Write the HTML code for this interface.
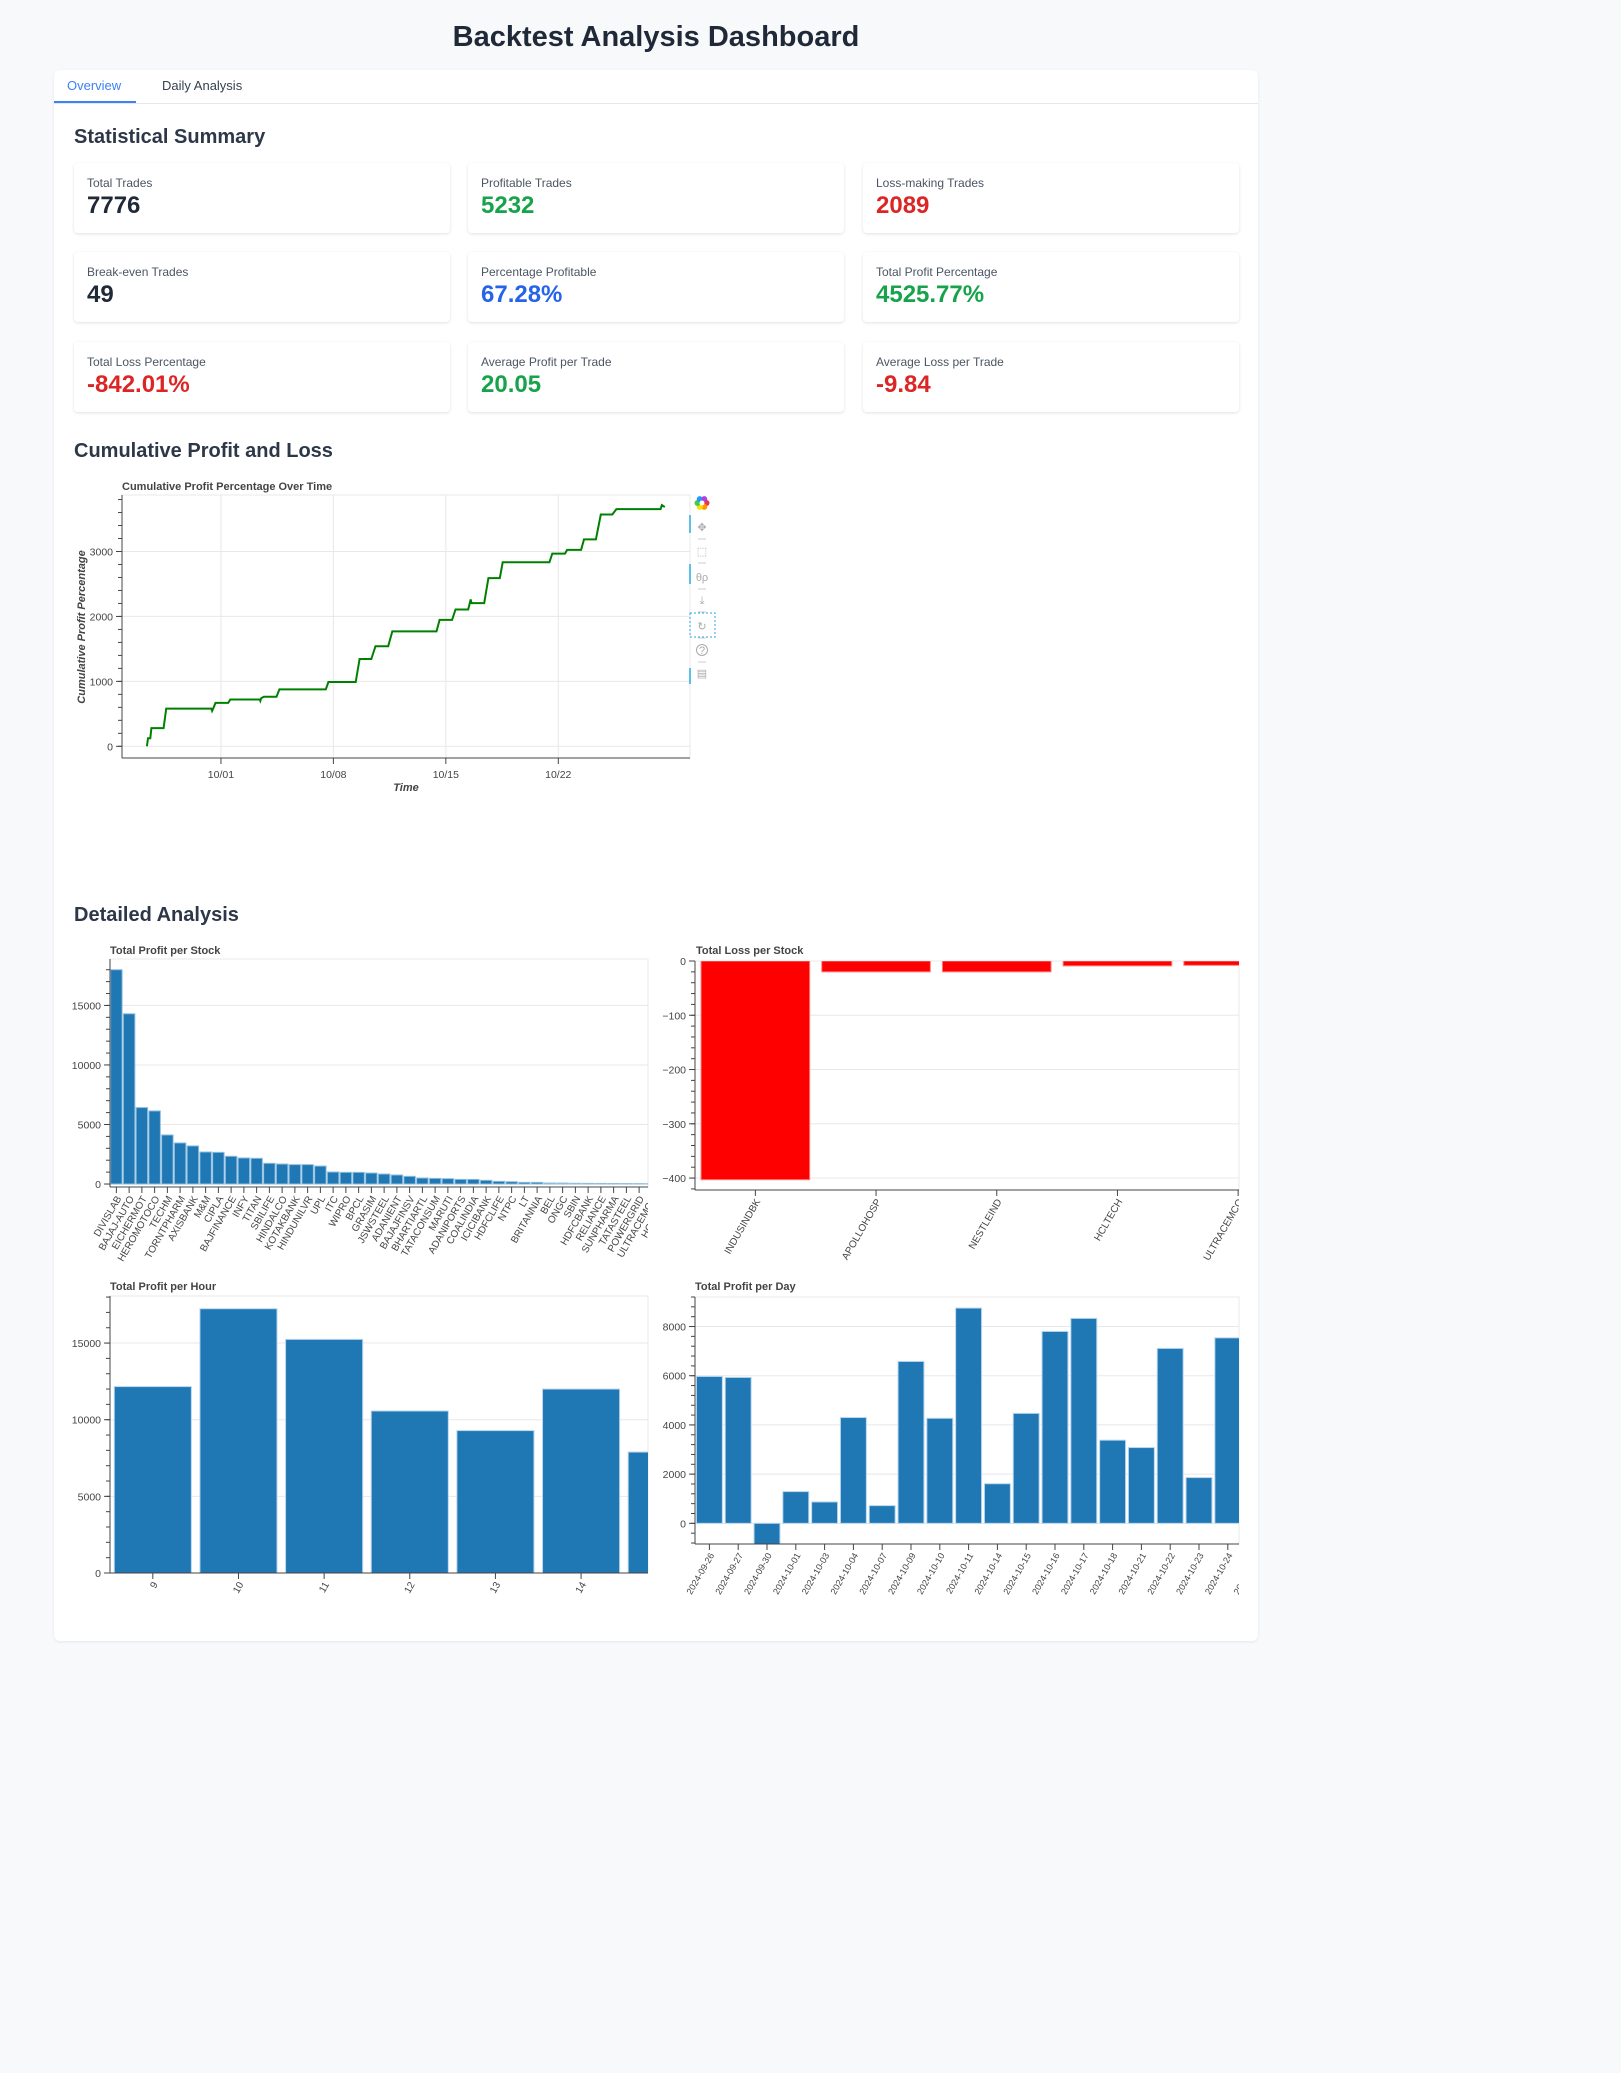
<!DOCTYPE html>
<html><head><meta charset="utf-8">
<style>
*{box-sizing:border-box;margin:0;padding:0}
body{width:1621px;height:2073px;background:#f8f9fb;font-family:"Liberation Sans",sans-serif;position:relative;overflow:hidden;color:#1f2937}
.abs{position:absolute}
h1{position:absolute;left:0;width:1312px;top:21px;text-align:center;font-size:29px;font-weight:bold;color:#1f2937}
.container{position:absolute;left:54px;top:70px;width:1204px;height:1571px;background:#fff;border-radius:6px;box-shadow:0 1px 3px rgba(0,0,0,.08)}
.tabs{position:absolute;left:0;top:0;width:1204px;height:34px;border-bottom:1px solid #e5e7eb}
.tab{position:absolute;top:8px;font-size:13px}
h2{position:absolute;font-size:20px;font-weight:bold;color:#2d3748}
.card{position:absolute;width:376px;height:70px;background:#fff;border-radius:4px;box-shadow:0 1px 3px rgba(0,0,0,.12)}
.card .lbl{position:absolute;left:13px;top:13px;font-size:12px;color:#4b5563}
.card .val{position:absolute;left:13px;top:29px;font-size:24px;font-weight:bold}
svg text{font-family:"Liberation Sans",sans-serif}
</style></head>
<body>
<h1>Backtest Analysis Dashboard</h1>
<div class="container">
 <div class="tabs">
  <div class="tab" style="left:13px;color:#3b82f6">Overview</div>
  <div class="abs" style="left:0;top:31px;width:82px;height:2px;background:#3b82f6"></div>
  <div class="tab" style="left:108px;color:#374151">Daily Analysis</div>
 </div>
</div>
<h2 style="left:74px;top:126px">Statistical Summary</h2>
<h2 style="left:74px;top:440px">Cumulative Profit and Loss</h2>
<h2 style="left:74px;top:904px">Detailed Analysis</h2>

<div class="card" style="left:74px;top:163px"><div class="lbl">Total Trades</div><div class="val" style="color:#1f2937">7776</div></div>
<div class="card" style="left:468px;top:163px"><div class="lbl">Profitable Trades</div><div class="val" style="color:#16a34a">5232</div></div>
<div class="card" style="left:863px;top:163px"><div class="lbl">Loss-making Trades</div><div class="val" style="color:#dc2626">2089</div></div>
<div class="card" style="left:74px;top:252px"><div class="lbl">Break-even Trades</div><div class="val" style="color:#1f2937">49</div></div>
<div class="card" style="left:468px;top:252px"><div class="lbl">Percentage Profitable</div><div class="val" style="color:#2563eb">67.28%</div></div>
<div class="card" style="left:863px;top:252px"><div class="lbl">Total Profit Percentage</div><div class="val" style="color:#16a34a">4525.77%</div></div>
<div class="card" style="left:74px;top:342px"><div class="lbl">Total Loss Percentage</div><div class="val" style="color:#dc2626">-842.01%</div></div>
<div class="card" style="left:468px;top:342px"><div class="lbl">Average Profit per Trade</div><div class="val" style="color:#16a34a">20.05</div></div>
<div class="card" style="left:863px;top:342px"><div class="lbl">Average Loss per Trade</div><div class="val" style="color:#dc2626">-9.84</div></div>

<svg id="charts" class="abs" style="left:0;top:0" width="1621" height="2073"></svg>

<script>
// ---- Cumulative chart data (day offset from 10/01, cumulative %) ----
const cumDays = [-4.61,-4.54,-4.40,-4.33,-3.57,-3.41,-0.60,-0.55,-0.45,-0.34,0.45,0.58,2.41,2.45,2.50,2.67,3.46,3.64,6.53,6.69,8.39,8.63,9.36,9.62,10.41,10.67,13.42,13.61,14.39,14.60,15.39,15.55,15.60,16.39,16.65,17.36,17.54,20.45,20.63,21.42,21.55,22.42,22.60,23.34,23.65,24.36,24.62,27.37,27.45,27.63];
const cumVals = [0,125,125,280,280,581,581,545,600,669,669,721,721,700,740,763,763,877,877,991,991,1344,1344,1541,1541,1770,1770,1946,1946,2107,2107,2263,2205,2205,2590,2590,2833,2833,2968,2968,3025,3025,3186,3186,3570,3570,3653,3653,3715,3684];
const cumYTicks = [0,1000,2000,3000];
const cumXTickDays = [0,7,14,21];
const cumXTickLabels = ["10/01","10/08","10/15","10/22"];

// ---- Profit per stock ----
const stockCats = ["DIVISLAB","BAJAJ-AUTO","EICHERMOT","HEROMOTOCO","TECHM","TORNTPHARM","AXISBANK","M&M","CIPLA","BAJFINANCE","INFY","TITAN","SBILIFE","HINDALCO","KOTAKBANK","HINDUNILVR","UPL","ITC","WIPRO","BPCL","GRASIM","JSWSTEEL","ADANIENT","BAJAJFINSV","BHARTIARTL","TATACONSUM","MARUTI","ADANIPORTS","COALINDIA","ICICIBANK","HDFCLIFE","NTPC","LT","BRITANNIA","BEL","ONGC","SBIN","HDFCBANK","RELIANCE","SUNPHARMA","TATASTEEL","POWERGRID","ULTRACEMCO","HCLTECH"];
const stockVals = [18000,14300,6420,6140,4120,3450,3200,2690,2660,2330,2190,2160,1740,1680,1630,1630,1510,1010,980,980,925,840,760,645,505,475,450,390,390,310,225,195,140,140,85,80,60,55,50,45,40,35,30,25];
const stockYTicks = [0,5000,10000,15000];

// ---- Loss per stock ----
const lossCats = ["INDUSINDBK","APOLLOHOSP","NESTLEIND","HCLTECH","ULTRACEMCO"];
const lossVals = [-403,-20,-20,-9,-8];
const lossYTicks = [0,-100,-200,-300,-400];

// ---- Profit per hour ----
const hourCats = ["9","10","11","12","13","14","15"];
const hourVals = [12160,17240,15240,10570,9290,12000,7890];
const hourYTicks = [0,5000,10000,15000];

// ---- Profit per day ----
const dayCats = ["2024-09-26","2024-09-27","2024-09-30","2024-10-01","2024-10-03","2024-10-04","2024-10-07","2024-10-09","2024-10-10","2024-10-11","2024-10-14","2024-10-15","2024-10-16","2024-10-17","2024-10-18","2024-10-21","2024-10-22","2024-10-23","2024-10-24","2024-10-25"];
const dayVals = [5970,5930,-1000,1290,870,4300,720,6580,4270,8750,1610,4470,7800,8330,3380,3080,7110,1860,7540,5000];
const dayYTicks = [0,2000,4000,6000,8000];

const NS="http://www.w3.org/2000/svg";
const svg=document.getElementById('charts');
function mk(tag,attrs,parent){const e=document.createElementNS(NS,tag);for(const k in attrs)e.setAttribute(k,attrs[k]);(parent||svg).appendChild(e);return e;}
function txt(s,attrs,parent){const e=mk('text',attrs,parent);e.textContent=s;return e;}
let clipId=0;

function yAxis(g,x,yScale,ticks,minorStep,ymin,ymax,top,bot){
  const ax=mk('line',{x1:x,x2:x,y1:top,y2:bot,stroke:'#444','stroke-width':1},g);
  
  
  for(let v=Math.ceil(ymin/minorStep)*minorStep;v<=ymax;v+=minorStep){
    const y=yScale(v);
    if(y<top||y>bot)continue;
    mk('line',{x1:x-4,x2:x,y1:y,y2:y,stroke:'#444','stroke-width':1},g);
  }
  ticks.forEach(v=>{
    const y=yScale(v);
    mk('line',{x1:x-6,x2:x,y1:y,y2:y,stroke:'#444','stroke-width':1},g);
    const t=txt(String(v).replace('-','\u2212'),{x:x-9,y:y+4,'text-anchor':'end','font-size':'10.5',fill:'#444'},g);
    
    
  });
}

function barChart(o){
  const g=mk('g',{});
  
  
  const yS=v=>o.top+(o.ymax-v)/(o.ymax-o.ymin)*(o.bot-o.top);
  const xS=i=>o.left+i*o.band;
  mk('rect',{x:o.left,y:o.top,width:o.right-o.left,height:o.bot-o.top,fill:'none',stroke:'#e8e8e8'},g);
  o.yticks.forEach(v=>{const y=yS(v);mk('line',{x1:o.left,x2:o.right,y1:y,y2:y,stroke:'#e8e8e8'},g);});
  const id='c'+(clipId++);
  const cp=mk('clipPath',{id:id},g);mk('rect',{x:o.left,y:o.top,width:o.right-o.left,height:o.bot-o.top},cp);
  const bg=mk('g',{'clip-path':'url(#'+id+')'},g);
  o.vals.forEach((v,i)=>{
    const x=xS(i)+o.band*0.05,w=o.band*0.9;
    const y0=yS(0),y1=yS(v);
    const r=mk('rect',{x:x,y:Math.min(y0,y1),width:w,height:Math.abs(y1-y0),fill:o.color,stroke:o.stroke,'stroke-width':1},bg);
    
    
  });
  const tt=txt(o.title,{x:o.left+(o.titleDx||0),y:o.titleY,'font-size':'11','font-weight':'bold',fill:'#444'},g);
  
  
  yAxis(g,o.left,yS,o.yticks,o.minor,o.ymin,o.ymax,o.top,o.bot);
  const xa=mk('line',{x1:o.left,x2:o.right,y1:o.bot,y2:o.bot,stroke:'#444'},g);
  
  
  const lc=mk('clipPath',{id:id+'l'},g);mk('rect',{x:o.left-80,y:o.bot,width:o.right-o.left+80,height:200},lc);
  const lg=mk('g',{'clip-path':'url(#'+id+'l)'},g);
  o.cats.forEach((c,i)=>{
    const cx=xS(i)+o.band/2;
    if(cx>o.right+30)return;
    if(cx<=o.right) mk('line',{x1:cx,x2:cx,y1:o.bot,y2:o.bot+6,stroke:'#444'},lg);
    const t=txt(c,{x:0,y:0,'text-anchor':'end','font-size':o.lfs||'10','fill':'#444',transform:'translate('+(cx+3)+','+(o.bot+10)+') rotate(-60)','dominant-baseline':'middle'},lg);
    
    
  });
}

barChart({name:'profit-per-stock-chart',title:'Total Profit per Stock',titleY:954,cats:stockCats,vals:stockVals,left:110,right:648,top:959,bot:1187,ymin:-250,ymax:18900,band:12.75,yticks:stockYTicks,minor:1000,color:'#1f77b4',stroke:'#8fbfe0'});
barChart({name:'loss-per-stock-chart',title:'Total Loss per Stock',titleY:954,titleDx:1,cats:lossCats,vals:lossVals,left:695,right:1239,top:961,bot:1190,ymin:-422,ymax:0,band:120.7,yticks:lossYTicks,minor:20,color:'#ff0000',stroke:'#ff8080'});
barChart({name:'profit-per-hour-chart',title:'Total Profit per Hour',titleY:1290,cats:hourCats,vals:hourVals,left:110,right:648,top:1296,bot:1573,ymin:0,ymax:18070,band:85.65,yticks:hourYTicks,minor:1000,color:'#1f77b4',stroke:'#b8d6ee'});
barChart({name:'profit-per-day-chart',title:'Total Profit per Day',titleY:1290,cats:dayCats,vals:dayVals,left:695,right:1239,top:1297,bot:1544,ymin:-840,ymax:9200,band:28.8,yticks:dayYTicks,minor:400,color:'#1f77b4',stroke:'#b8d6ee',lfs:'9'});

// ---- Cumulative line chart ----
(function(){
  const L=122,R=690,T=495,B=758;
  const dmin=-6.16,dmax=29.2, vmin=-180,vmax=3870;
  const xS=d=>L+(d-dmin)/(dmax-dmin)*(R-L);
  const yS=v=>T+(vmax-v)/(vmax-vmin)*(B-T);
  const g=mk('g',{});
  
  
  mk('rect',{x:L,y:T,width:R-L,height:B-T,fill:'none',stroke:'#e8e8e8'},g);
  cumYTicks.forEach(v=>mk('line',{x1:L,x2:R,y1:yS(v),y2:yS(v),stroke:'#e8e8e8'},g));
  cumXTickDays.forEach(d=>mk('line',{x1:xS(d),x2:xS(d),y1:T,y2:B,stroke:'#e8e8e8'},g));
  let p='';cumDays.forEach((d,i)=>{p+=(i?'L':'M')+xS(d).toFixed(1)+','+yS(cumVals[i]).toFixed(1);});
  const ln=mk('path',{d:p,fill:'none',stroke:'#008000','stroke-width':2},g);
  
  
  yAxis(g,L,yS,cumYTicks,200,vmin,vmax,T,B);
  mk('line',{x1:L,x2:R,y1:B,y2:B,stroke:'#444'},g);
  cumXTickDays.forEach((d,i)=>{
    mk('line',{x1:xS(d),x2:xS(d),y1:B,y2:B+6,stroke:'#444'},g);
    const t=txt(cumXTickLabels[i],{x:xS(d),y:B+20,'text-anchor':'middle','font-size':'10.5',fill:'#444'},g);
    
    
  });
  const t1=txt('Cumulative Profit Percentage Over Time',{x:L,y:490,'font-size':'11','font-weight':'bold',fill:'#444'},g);
  
  
  const t2=txt('Time',{x:406,y:791,'text-anchor':'middle','font-size':'11','font-weight':'bold','font-style':'italic',fill:'#444'},g);
  
  
  const t3=txt('Cumulative Profit Percentage',{x:0,y:0,'text-anchor':'middle','font-size':'11','font-weight':'bold','font-style':'italic',fill:'#444',transform:'translate(85,627) rotate(-90)'},g);
  
  
  const tb=mk('g',{});
  
  
  const cols=['#e34','#f90','#fd0','#4c4','#29f','#a4d'];
  cols.forEach((c,i)=>{const a=i*Math.PI/3;mk('circle',{cx:702+4.5*Math.cos(a),cy:503+4.5*Math.sin(a),r:3,fill:c},tb);});
  mk('circle',{cx:702,cy:503,r:2.5,fill:'#fff'},tb);
  [[515,533],[564,584],[668,684]].forEach(s=>mk('line',{x1:690,x2:690,y1:s[0],y2:s[1],stroke:'#26aae1','stroke-width':1.5},tb));
  const icons=[['\u2725',527,'pan-tool'],['\u2B1A',551,'box-zoom-tool'],['\u03B8\u03C1',577,'wheel-zoom-tool'],['\u2913',600,'save-tool'],['\u21BB',626,'reset-tool'],['?',650,'help-tool'],['\u25A4',673,'comment-tool']];
  icons.forEach(ic=>{
    const t=txt(ic[0],{x:702,y:ic[1]+4,'text-anchor':'middle','font-size':'11',fill:'#aaa'},tb);
    
    
  });
  mk('circle',{cx:702,cy:650,r:5.5,fill:'none',stroke:'#aaa'},tb);
  mk('rect',{x:690,y:613,width:25,height:24,fill:'none',stroke:'#26aae1','stroke-dasharray':'2,2'},tb);
  [539,563,589,612,638,662].forEach(y=>mk('line',{x1:698,x2:706,y1:y,y2:y,stroke:'#ccc'},tb));
})();
</script>
</body></html>
